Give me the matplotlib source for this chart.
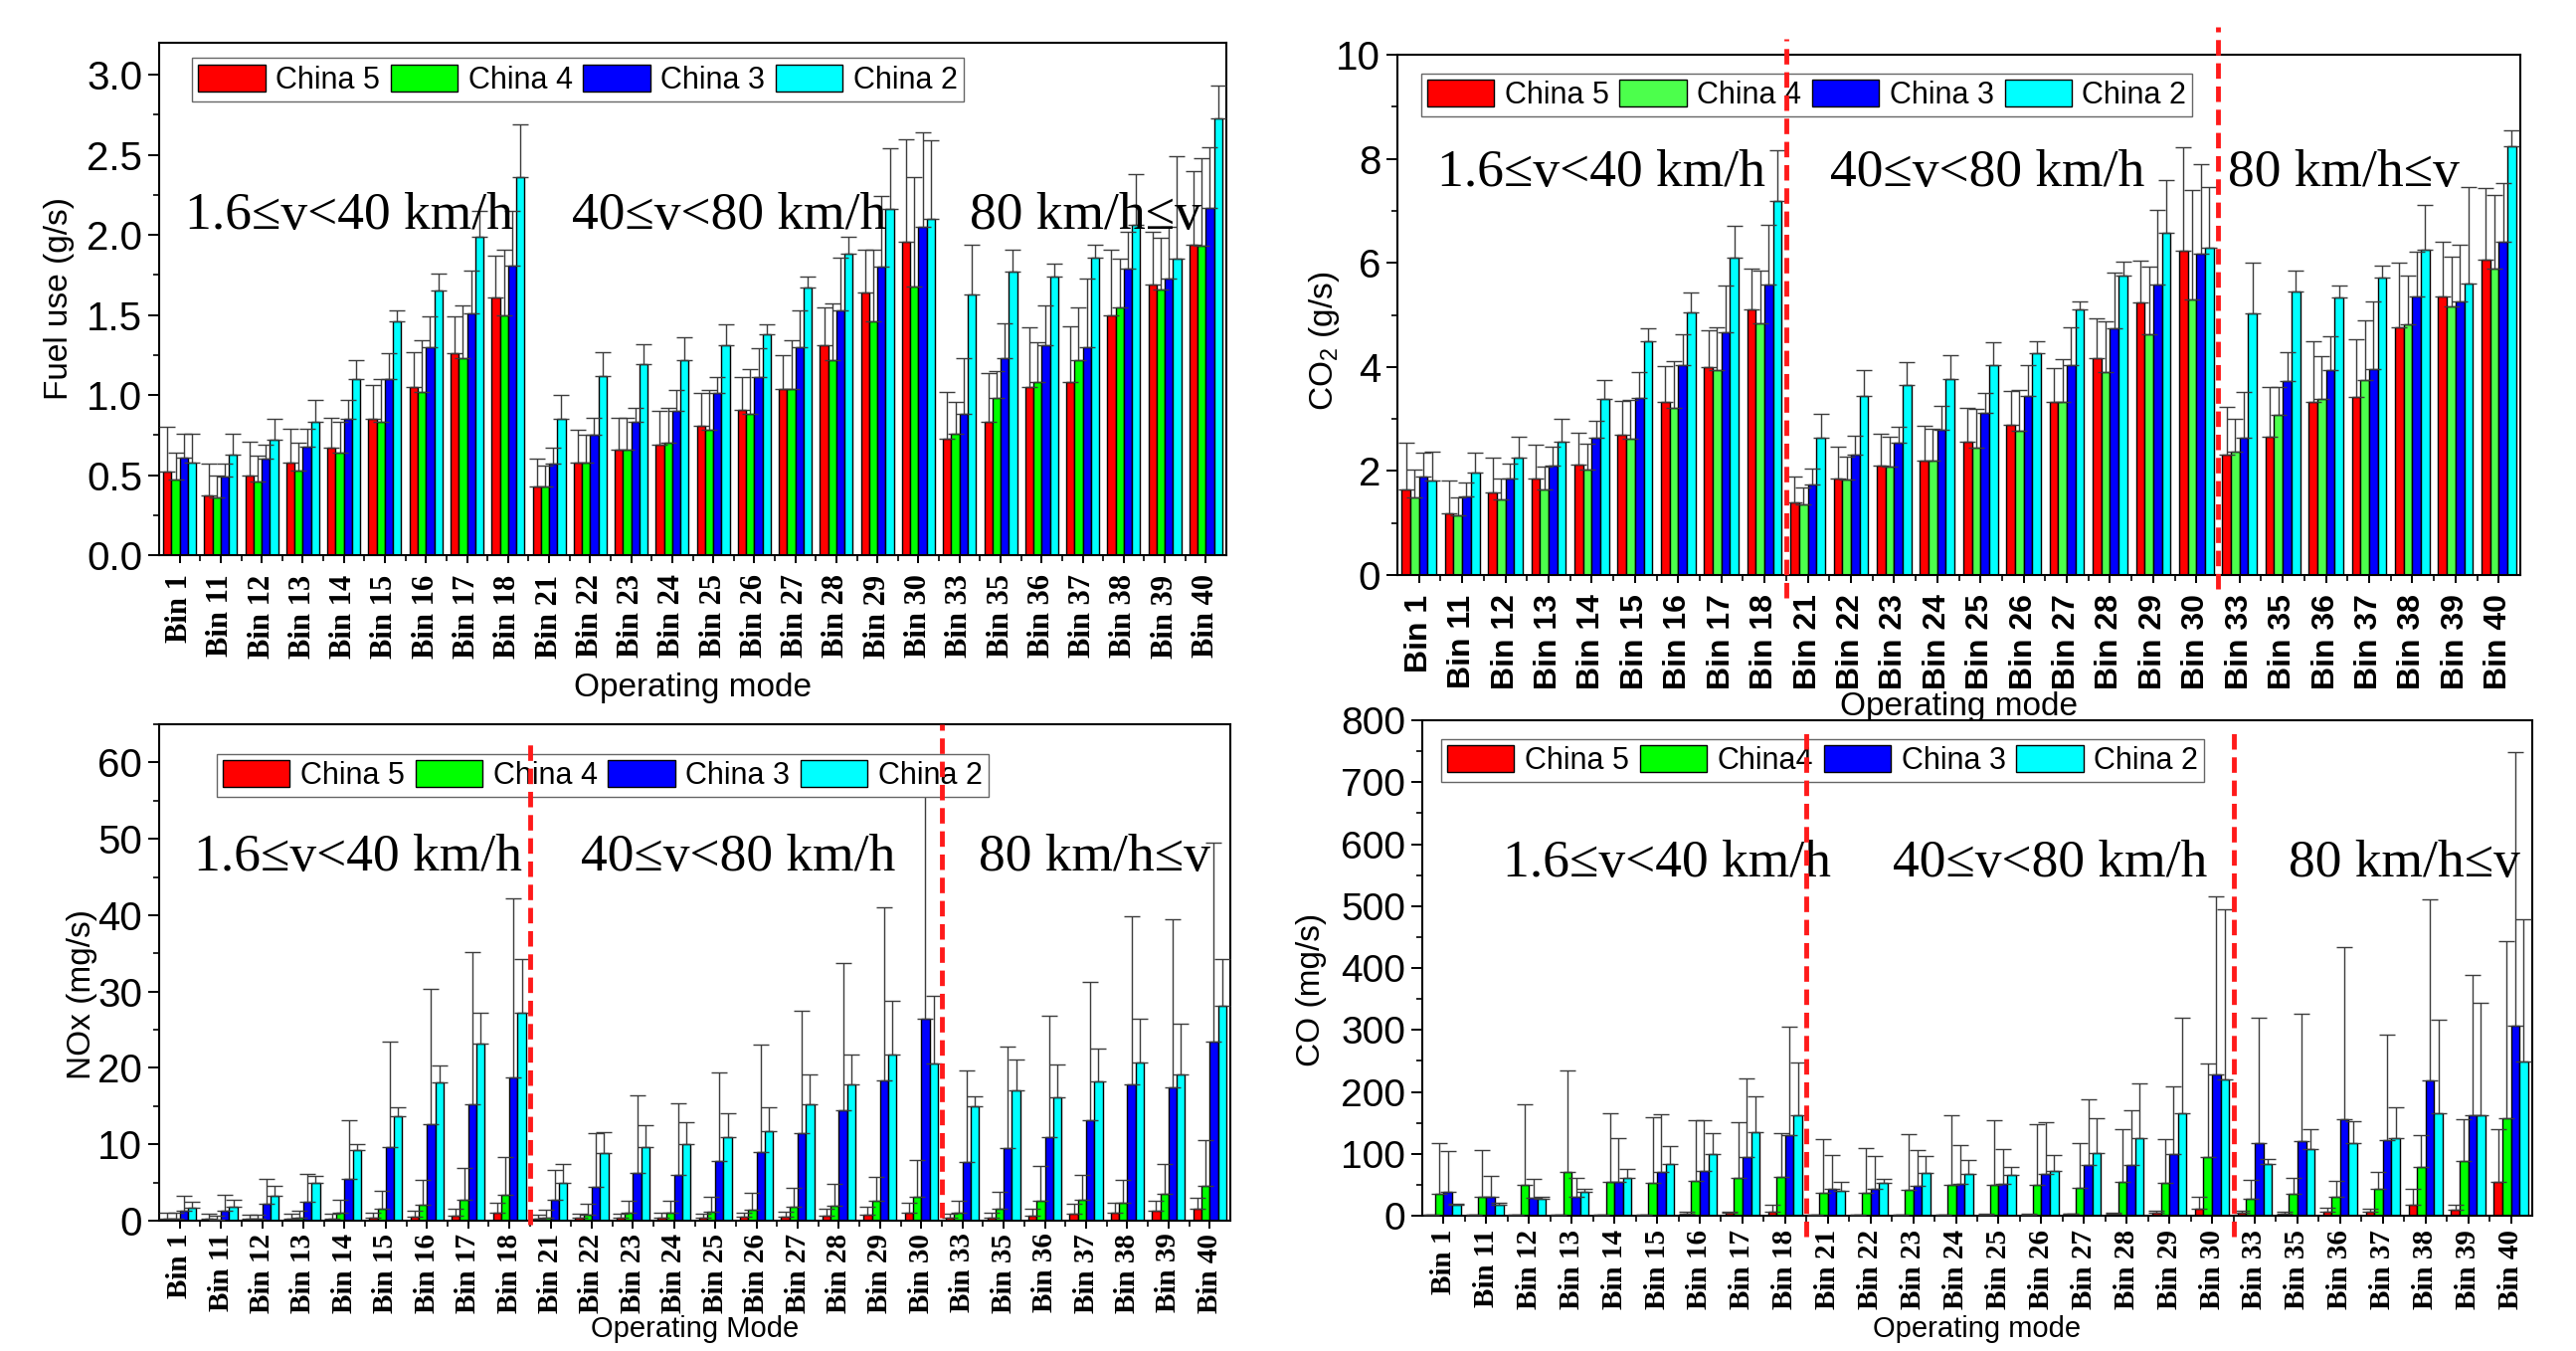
import numpy as np
import matplotlib.pyplot as plt
from matplotlib.ticker import MultipleLocator, FixedLocator, FormatStrFormatter

plt.rcParams['font.family'] = ['Liberation Sans', 'DejaVu Sans']
plt.rcParams['mathtext.fontset'] = 'custom'
plt.rcParams['mathtext.rm'] = 'Liberation Sans'
plt.rcParams['mathtext.it'] = 'Liberation Sans:italic'

# operating mode bins (x axis of every panel)
bins = ['Bin 1', 'Bin 11', 'Bin 12', 'Bin 13', 'Bin 14', 'Bin 15', 'Bin 16', 'Bin 17', 'Bin 18',
        'Bin 21', 'Bin 22', 'Bin 23', 'Bin 24', 'Bin 25', 'Bin 26', 'Bin 27', 'Bin 28', 'Bin 29', 'Bin 30',
        'Bin 33', 'Bin 35', 'Bin 36', 'Bin 37', 'Bin 38', 'Bin 39', 'Bin 40']

# Fuel use (g/s): means and mean+SD (top of error bar)
fuel_c5 = [0.52, 0.37, 0.50, 0.58, 0.67, 0.85, 1.05, 1.26, 1.61, 0.43, 0.58, 0.66, 0.69, 0.81, 0.91, 1.04, 1.31, 1.64, 1.96, 0.73, 0.83, 1.05, 1.08, 1.50, 1.69, 1.94]
fuel_c4 = [0.47, 0.36, 0.46, 0.53, 0.64, 0.83, 1.02, 1.23, 1.50, 0.43, 0.58, 0.66, 0.70, 0.78, 0.88, 1.04, 1.22, 1.46, 1.68, 0.76, 0.98, 1.08, 1.22, 1.55, 1.66, 1.93]
fuel_c3 = [0.61, 0.49, 0.60, 0.68, 0.85, 1.10, 1.30, 1.51, 1.81, 0.57, 0.75, 0.83, 0.90, 1.01, 1.11, 1.30, 1.53, 1.80, 2.05, 0.88, 1.23, 1.31, 1.30, 1.79, 1.73, 2.17]
fuel_c2 = [0.58, 0.63, 0.72, 0.83, 1.10, 1.46, 1.65, 1.99, 2.36, 0.85, 1.12, 1.19, 1.22, 1.31, 1.38, 1.67, 1.88, 2.16, 2.10, 1.63, 1.77, 1.74, 1.86, 2.06, 1.85, 2.73]
fuel_c5_hi = [0.80, 0.57, 0.71, 0.79, 0.86, 1.06, 1.27, 1.49, 1.87, 0.60, 0.78, 0.86, 0.90, 1.01, 1.11, 1.25, 1.55, 1.91, 2.60, 1.02, 1.14, 1.42, 1.43, 1.91, 2.02, 2.40]
fuel_c4_hi = [0.64, 0.50, 0.62, 0.70, 0.83, 1.10, 1.34, 1.56, 1.91, 0.56, 0.75, 0.86, 0.92, 1.03, 1.16, 1.34, 1.57, 1.91, 2.36, 0.96, 1.15, 1.33, 1.55, 1.85, 1.98, 2.48]
fuel_c3_hi = [0.76, 0.57, 0.69, 0.79, 0.97, 1.26, 1.49, 1.78, 2.15, 0.67, 0.86, 0.92, 1.03, 1.11, 1.29, 1.53, 1.86, 2.24, 2.64, 1.23, 1.45, 1.56, 1.73, 2.02, 2.05, 2.55]
fuel_c2_hi = [0.76, 0.76, 0.85, 0.97, 1.22, 1.53, 1.76, 2.15, 2.69, 1.00, 1.27, 1.32, 1.36, 1.44, 1.44, 1.74, 1.99, 2.54, 2.59, 1.94, 1.91, 1.82, 1.94, 2.38, 2.49, 2.93]

# CO2 (g/s)
co2_c5 = [1.64, 1.19, 1.58, 1.85, 2.13, 2.70, 3.32, 4.00, 5.11, 1.39, 1.85, 2.10, 2.19, 2.56, 2.88, 3.32, 4.17, 5.23, 6.24, 2.31, 2.65, 3.33, 3.42, 4.77, 5.36, 6.07]
co2_c4 = [1.49, 1.14, 1.45, 1.65, 2.03, 2.61, 3.22, 3.94, 4.83, 1.35, 1.84, 2.09, 2.19, 2.44, 2.78, 3.33, 3.90, 4.62, 5.29, 2.38, 3.07, 3.39, 3.74, 4.82, 5.16, 5.88]
co2_c3 = [1.89, 1.52, 1.86, 2.11, 2.64, 3.40, 4.04, 4.66, 5.58, 1.74, 2.32, 2.55, 2.79, 3.11, 3.45, 4.04, 4.74, 5.59, 6.17, 2.63, 3.72, 3.94, 3.96, 5.35, 5.25, 6.41]
co2_c2 = [1.82, 1.97, 2.25, 2.57, 3.39, 4.49, 5.04, 6.09, 7.19, 2.64, 3.44, 3.66, 3.77, 4.04, 4.26, 5.11, 5.75, 6.57, 6.30, 5.02, 5.44, 5.34, 5.71, 6.26, 5.60, 8.25]
co2_c5_hi = [2.54, 1.82, 2.25, 2.51, 2.73, 3.34, 4.01, 4.71, 5.89, 1.89, 2.47, 2.72, 2.87, 3.22, 3.54, 3.98, 4.93, 6.05, 8.23, 3.23, 3.61, 4.49, 4.54, 6.01, 6.41, 7.44]
co2_c4_hi = [2.02, 1.49, 1.85, 2.08, 2.53, 3.37, 4.12, 4.77, 5.85, 1.68, 2.27, 2.65, 2.81, 3.19, 3.55, 4.14, 4.87, 5.93, 7.40, 3.00, 3.61, 4.20, 4.89, 5.75, 6.11, 7.30]
co2_c3_hi = [2.35, 1.78, 2.14, 2.46, 2.97, 3.90, 4.62, 5.56, 6.73, 2.04, 2.68, 2.85, 3.25, 3.49, 4.04, 4.76, 5.81, 7.02, 7.89, 3.51, 4.29, 4.59, 5.25, 6.22, 6.35, 7.54]
co2_c2_hi = [2.37, 2.35, 2.65, 3.00, 3.75, 4.74, 5.43, 6.71, 8.16, 3.09, 3.94, 4.09, 4.22, 4.48, 4.49, 5.26, 6.03, 7.60, 7.46, 6.00, 5.85, 5.56, 5.94, 7.11, 7.46, 8.55]

# NOx (mg/s)
nox_c5 = [0.3, 0.3, 0.2, 0.3, 0.3, 0.4, 0.5, 0.6, 1.0, 0.26, 0.4, 0.4, 0.4, 0.4, 0.5, 0.5, 0.6, 0.8, 1.0, 0.4, 0.4, 0.6, 0.9, 1.0, 1.3, 1.5]
nox_c4 = [0.3, 0.15, 0.2, 0.4, 1.0, 1.55, 2.1, 2.8, 3.4, 0.4, 0.8, 1.0, 1.1, 1.2, 1.4, 1.8, 2.0, 2.6, 3.1, 1.0, 1.5, 2.6, 2.7, 2.4, 3.5, 4.5]
nox_c3 = [1.25, 1.3, 2.2, 2.5, 5.5, 9.7, 12.7, 15.3, 18.8, 2.7, 4.4, 6.2, 6.0, 7.8, 9.0, 11.4, 14.5, 18.4, 26.4, 7.7, 9.5, 10.9, 13.1, 17.8, 17.4, 23.5]
nox_c2 = [1.7, 1.8, 3.3, 5.0, 9.2, 13.7, 18.1, 23.2, 27.2, 5.0, 8.9, 9.7, 10.0, 11.0, 11.7, 15.3, 17.8, 21.8, 20.6, 15.0, 17.1, 16.2, 18.3, 20.7, 19.2, 28.2]
nox_c5_hi = [1.0, 0.9, 0.8, 0.9, 0.9, 1.1, 1.3, 1.55, 2.3, 0.8, 0.95, 0.9, 1.0, 0.9, 1.1, 1.2, 1.5, 1.8, 2.4, 0.9, 1.0, 1.5, 2.2, 2.3, 2.6, 3.0]
nox_c4_hi = [1.0, 0.6, 0.8, 1.25, 2.7, 3.9, 5.4, 6.9, 8.4, 1.4, 2.2, 2.6, 2.6, 3.1, 3.7, 4.3, 4.8, 5.7, 7.9, 2.6, 3.8, 7.1, 6.0, 5.3, 7.4, 10.5]
nox_c3_hi = [3.3, 3.4, 5.5, 6.1, 13.1, 23.4, 30.3, 35.2, 42.2, 6.7, 11.4, 16.4, 15.4, 19.4, 23.0, 27.5, 33.8, 41.0, 60.0, 19.7, 22.8, 26.8, 31.3, 39.8, 39.5, 49.5]
nox_c2_hi = [2.5, 2.8, 4.6, 5.9, 10.0, 14.8, 20.3, 27.2, 34.3, 7.4, 11.6, 12.5, 12.9, 14.1, 14.8, 19.1, 21.8, 28.8, 29.4, 16.3, 21.1, 20.4, 22.6, 26.5, 25.8, 34.2]

# CO (mg/s)
co_c5 = [1, 1, 1, 1, 2, 2, 4, 5, 7, 1, 1, 1, 1, 2, 2, 3, 3, 5, 12, 5, 3, 7, 7, 18, 9, 55]
co_c4 = [35, 31, 50, 71, 55, 53, 57, 61, 63, 37, 37, 42, 50, 49, 49, 45, 55, 53, 94, 28, 35, 31, 43, 78, 89, 158]
co_c3 = [38, 30, 29, 30, 54, 71, 73, 94, 130, 43, 43, 48, 52, 51, 67, 82, 82, 100, 228, 118, 120, 156, 122, 219, 163, 307]
co_c2 = [17, 18, 28, 38, 61, 83, 100, 135, 162, 40, 53, 69, 68, 66, 73, 101, 126, 166, 220, 84, 107, 117, 126, 166, 163, 249]
co_c5_hi = [2, 1, 1, 1, 2, 2, 6, 7, 18, 1, 1, 2, 2, 3, 3, 4, 5, 8, 31, 8, 7, 13, 12, 44, 18, 140]
co_c4_hi = [118, 106, 180, 235, 166, 159, 155, 151, 134, 124, 110, 132, 162, 155, 148, 118, 139, 123, 245, 58, 61, 56, 70, 130, 156, 443]
co_c3_hi = [104, 65, 60, 61, 125, 164, 155, 222, 305, 98, 96, 106, 114, 108, 151, 188, 171, 209, 515, 319, 326, 434, 292, 511, 388, 749]
co_c2_hi = [20, 21, 30, 43, 76, 112, 134, 193, 247, 54, 60, 96, 90, 79, 98, 158, 213, 319, 495, 92, 139, 153, 175, 316, 343, 479]

speed_labels = ['1.6\u2264v<40 km/h', '40\u2264v<80 km/h', '80 km/h\u2264v']
labels = ['China 5', 'China 4', 'China 3', 'China 2']
labels_co = ['China 5', 'China4', 'China 3', 'China 2']

serif = ['Liberation Serif', 'DejaVu Serif']
sans = ['Liberation Sans', 'DejaVu Sans']

fig = plt.figure(figsize=(25.9, 13.58), dpi=100)

x = np.arange(len(bins))
w = 0.2
offsets = [-1.5 * w, -0.5 * w, 0.5 * w, 1.5 * w]


def draw_panel(rect, means, tops, colors, legend_labels, ylabel, ylim, major, minor, fmt,
               legend_anchor, text_pos, text_y, ylabel_xy, xlabel_text, xlabel_y, xlabel_size,
               tick_font, tick_size, tick_pad, ytick_size, dashes):
    ax = fig.add_axes(rect)
    handles = []
    for off, m, t, c, lab in zip(offsets, means, tops, colors, legend_labels):
        m = np.array(m, dtype=float)
        t = np.array(t, dtype=float)
        b = ax.bar(x + off, m, w, color=c, edgecolor='black', linewidth=1.0, label=lab, zorder=2)
        ax.errorbar(x + off, m, yerr=[np.zeros_like(m), t - m], fmt='none', ecolor='#3c3c3c',
                    elinewidth=1.0, capsize=5.5, capthick=1.0, zorder=3)
        handles.append(b)

    ax.set_xlim(-0.5, len(bins) - 0.5)
    ax.set_ylim(*ylim)
    ax.set_xticks(x)
    ax.set_xticklabels(bins, rotation=90, fontsize=tick_size, fontweight='bold', family=tick_font)
    ax.xaxis.set_minor_locator(FixedLocator(np.arange(0.5, len(bins) - 0.5, 1)))
    ax.yaxis.set_major_locator(MultipleLocator(major))
    ax.yaxis.set_minor_locator(MultipleLocator(minor))
    ax.yaxis.set_major_formatter(FormatStrFormatter(fmt))
    ax.tick_params(axis='y', which='major', length=8, width=1.4, labelsize=ytick_size, pad=4)
    ax.tick_params(axis='y', which='minor', length=4.5, width=1.2)
    ax.tick_params(axis='x', which='major', length=6, width=1.4, pad=tick_pad)
    ax.tick_params(axis='x', which='minor', length=4, width=1.2)
    for sp in ax.spines.values():
        sp.set_linewidth(1.5)

    ax.set_ylabel(ylabel, fontsize=24)
    ax.yaxis.set_label_coords(*ylabel_xy)
    ax.set_xlabel(xlabel_text, fontsize=xlabel_size)
    ax.xaxis.set_label_coords(0.5, xlabel_y)

    leg = ax.legend(handles=handles, loc='upper left', bbox_to_anchor=legend_anchor, ncol=4,
                    fontsize=22, handlelength=2.2, handleheight=1.0, handletextpad=0.35,
                    columnspacing=0.35, borderpad=0.2, borderaxespad=0, fancybox=False,
                    framealpha=1, edgecolor='#666666')
    leg.get_frame().set_linewidth(1.0)

    # speed range annotations
    for s, xp in zip(speed_labels, text_pos):
        ax.text(xp, text_y, s, fontsize=38.5, family=serif, ha='center', va='baseline', zorder=4)

    # red dashed separators between the speed ranges
    for i, (lo, hi) in enumerate(dashes):
        xs = bins.index(['Bin 18', 'Bin 30'][i]) + 0.5
        ax.plot([xs, xs], [lo, hi], color='#ff1a1a', linestyle=(0, (3.2, 1.6)), linewidth=3.5,
                clip_on=False, zorder=10)
    return ax


# Fuel use
draw_panel([160 / 2590, 1 - 558 / 1358, 1073 / 2590, 515 / 1358],
           [fuel_c5, fuel_c4, fuel_c3, fuel_c2], [fuel_c5_hi, fuel_c4_hi, fuel_c3_hi, fuel_c2_hi],
           ['#ff0000', '#00ff00', '#0000ff', '#00ffff'], labels, 'Fuel use (g/s)',
           (0, 3.2), 0.5, 0.25, '%.1f', (0.031, 0.97), [4.13, 13.38, 22.08], 2.04,
           (-0.079, 0.5), 'Operating mode', -0.229, 24, serif, 22, 8, 29, [])

# CO2
draw_panel([1405 / 2590, 1 - 578 / 1358, 1129 / 2590, 523 / 1358],
           [co2_c5, co2_c4, co2_c3, co2_c2], [co2_c5_hi, co2_c4_hi, co2_c3_hi, co2_c2_hi],
           ['#ff0000', '#4cff4c', '#0000ff', '#00ffff'], labels, 'CO$_2$ (g/s)',
           (0, 10), 2, 1, '%d', (0.021, 0.964), [4.23, 13.16, 21.4], 7.47,
           (-0.050, 0.45), 'Operating mode', -0.224, 24, sans, 23, 8, 29, [(-0.44, 10.3), (-0.27, 10.53)])

# NOx
draw_panel([160 / 2590, 1 - 1227 / 1358, 1077 / 2590, 499 / 1358],
           [nox_c5, nox_c4, nox_c3, nox_c2], [nox_c5_hi, nox_c4_hi, nox_c3_hi, nox_c2_hi],
           ['#ff0000', '#00ff00', '#0000ff', '#00ffff'], labels, 'NOx (mg/s)',
           (0, 65), 10, 5, '%d', (0.054, 0.94), [4.34, 13.55, 22.2], 45.9,
           (-0.058, 0.455), 'Operating Mode', -0.190, 21, serif, 21, 3, 29, [(-0.5, 62.8), (0.4, 65)])

# CO
draw_panel([1430 / 2590, 1 - 1222 / 1358, 1116 / 2590, 498 / 1358],
           [co_c5, co_c4, co_c3, co_c2], [co_c5_hi, co_c4_hi, co_c3_hi, co_c2_hi],
           ['#ff0000', '#00ff00', '#0000ff', '#00ffff'], labels_co, 'CO (mg/s)',
           (0, 800), 100, 50, '%d', (0.017, 0.962), [5.23, 14.2, 22.5], 547,
           (-0.086, 0.457), 'Operating mode', -0.201, 21, serif, 21, 4, 28, [(-33, 782), (-33, 779)])

fig.savefig('out.png', dpi=100)
